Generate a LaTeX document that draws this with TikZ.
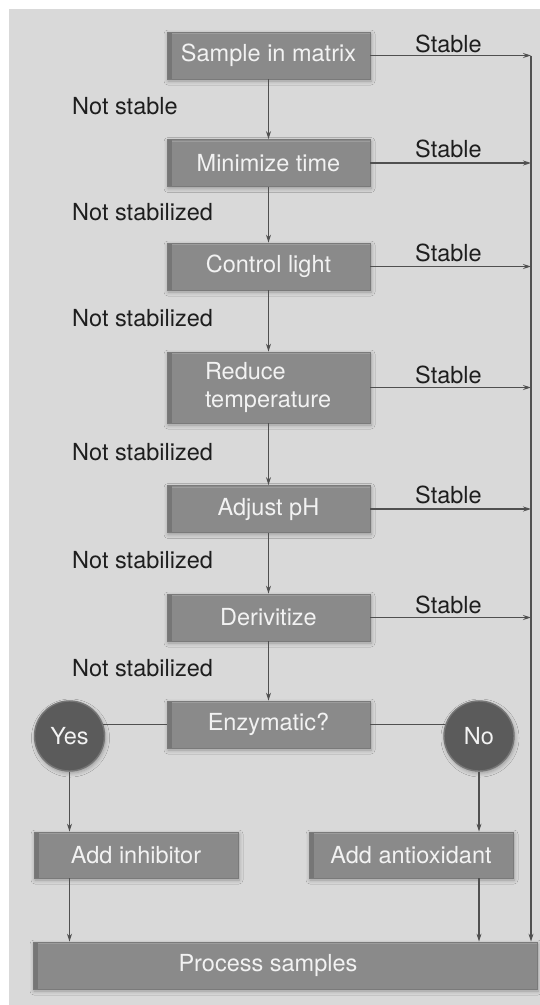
\documentclass[tikz,border=0pt]{standalone}
\usepackage{fontspec}
\setmainfont{TeX Gyre Heros}
\usetikzlibrary{arrows.meta,shadows.blur}

\definecolor{panelbg}{HTML}{D9D9D9}
\definecolor{boxfill}{HTML}{8A8A8A}
\definecolor{boxedge}{HTML}{767676}
\definecolor{boxline}{HTML}{7A7A7A}
\definecolor{boxtop}{HTML}{9C9C9C}
\definecolor{circfill}{HTML}{5B5B5B}
\definecolor{circrim}{HTML}{767676}
\definecolor{wire}{HTML}{505050}
\definecolor{labeltext}{HTML}{1E1E1E}

\newcommand\bxfont{\fontsize{23.5}{28}\selectfont}
\newcommand\lbfont{\fontsize{23.5}{27}\selectfont}

\tikzset{
  stepbox/.style={draw=boxline, line width=0.8pt, fill=boxfill, text=white!95!black,
    font=\bxfont, minimum width=203pt, minimum height=47pt, inner sep=0pt,
    blur shadow={shadow xshift=1pt, shadow yshift=-2pt, shadow blur radius=4pt,
      shadow blur steps=6, shadow opacity=30},
    path picture={
      \fill[boxedge] (path picture bounding box.south west)
        rectangle ([xshift=5pt]path picture bounding box.north west);
      \draw[boxtop, line width=1pt] ([xshift=5pt,yshift=-1.5pt]path picture bounding box.north west)
        -- ([yshift=-1.5pt]path picture bounding box.north east);}},
  decision/.style={circle, minimum size=70pt, inner sep=0pt, fill=circfill,
    draw=circrim, line width=1.4pt, text=white!95!black, font=\bxfont,
    blur shadow={shadow xshift=1pt, shadow yshift=-2pt, shadow blur radius=4pt,
      shadow blur steps=6, shadow opacity=30}},
  flow/.style={draw=wire, line width=1.1pt, -{Stealth[length=8pt,width=5pt]}},
  plain/.style={draw=wire, line width=1.1pt},
  note/.style={anchor=west, font=\lbfont, text=labeltext, inner sep=0pt}
}

\begin{document}
\begin{tikzpicture}[x=1pt,y=-1pt]
  % canvas and grey panel
  \useasboundingbox (0,0) rectangle (540,1005);
  \fill[white] (0,0) rectangle (540,1005);
  \fill[panelbg] (9,9) rectangle (540,1005);

  % main column of treatment steps
  \node[stepbox] (s1) at (268.5,55.5) {Sample in matrix};
  \node[stepbox] (s2) at (268.5,163) {Minimize time};
  \node[stepbox] (s3) at (268.5,266.5) {Control light};
  \node[stepbox, minimum height=71pt, align=left, text width=127pt, inner xsep=38pt]
    (s4) at (268.5,387.5) {Reduce\\temperature};
  \node[stepbox] (s5) at (268.5,509) {Adjust pH};
  \node[stepbox] (s6) at (268.5,617.5) {Derivitize};
  \node[stepbox] (s7) at (268.5,724.5) {Enzymatic?};

  % branch outcomes
  \node[stepbox, minimum width=204pt, minimum height=46pt] (inh) at (136,855) {Add inhibitor};
  \node[stepbox, minimum width=204pt, minimum height=46pt] (anti) at (411,855) {Add antioxidant};
  \node[stepbox, minimum width=504pt] (proc) at (285,965.5) {};
  \node[font=\bxfont, text=white!95!black, inner sep=0pt] (proctext) at (268,965.5) {Process samples};

  % right-hand collector rail
  \coordinate (rail) at (531,0);
  \draw[flow] (s1.east -| rail) -- (proc.north -| rail);

  % downward flow
  \draw[flow] (s1) -- (s2);
  \draw[flow] (s2) -- (s3);
  \draw[flow] (s3) -- (s4);
  \draw[flow] (s4) -- (s5);
  \draw[flow] (s5) -- (s6);
  \draw[flow] (s6) -- (s7);

  % stable exits to the rail
  \foreach \s in {s1,s2,s3,s4,s5,s6}
    \draw[flow] (\s.east) -- (\s.east -| rail);

  % decision circles
  \coordinate (yesc) at (69.5,736);
  \coordinate (noc) at (479,736);
  \draw[plain] (s7.west) -- (s7.west -| yesc);
  \draw[plain] (s7.east) -- (s7.east -| noc);
  \node[decision] (yes) at (yesc) {Yes};
  \node[decision] (no) at (noc) {No};

  \draw[flow] (yes.south) -- (yes.south |- inh.north);
  \draw[flow] (no.south) -- (no.south |- anti.north);
  \draw[flow] (yes.south |- inh.south) -- (yes.south |- proc.north);
  \draw[flow] (no.south |- anti.south) -- (no.south |- proc.north);

  % edge labels
  \node[note] (ns1) at (72,106) {Not stable};
  \node[note] (ns2) at (72,212) {Not stabilized};
  \node[note] (ns3) at (72,318) {Not stabilized};
  \node[note] (ns4) at (72,452) {Not stabilized};
  \node[note] (ns5) at (72,560) {Not stabilized};
  \node[note] (ns6) at (72,668) {Not stabilized};

  \node[note] (st1) at (415,44) {Stable};
  \node[note] (st2) at (415,149) {Stable};
  \node[note] (st3) at (415,253) {Stable};
  \node[note] (st4) at (415,375) {Stable};
  \node[note] (st5) at (415,495) {Stable};
  \node[note] (st6) at (415,605) {Stable};
\end{tikzpicture}
\end{document}
